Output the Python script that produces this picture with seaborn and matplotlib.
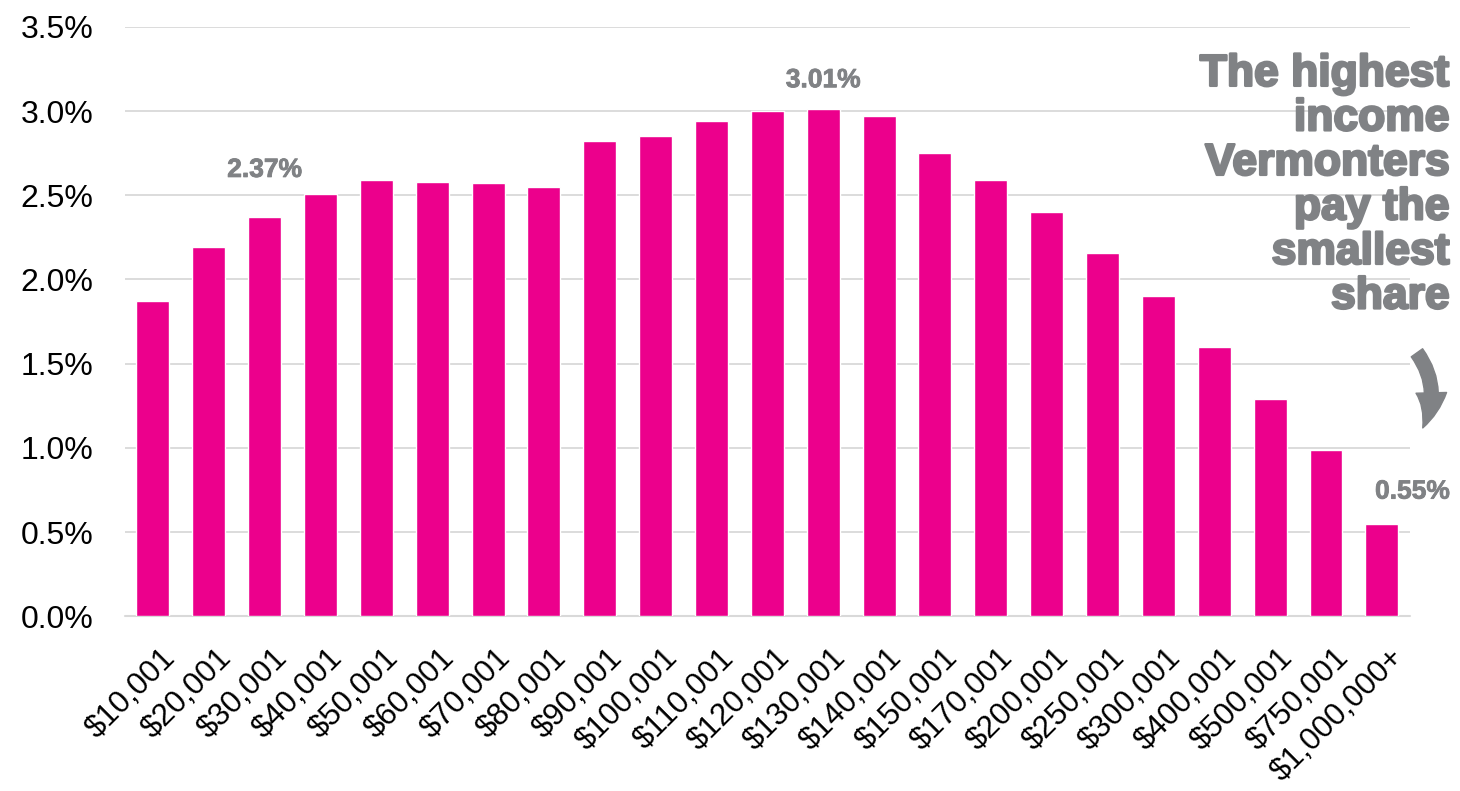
import numpy as np
import matplotlib
matplotlib.use('Agg')
import matplotlib.pyplot as plt
import matplotlib.transforms as mtransforms
import matplotlib.patheffects as pe
from matplotlib.ticker import FuncFormatter
import seaborn as sns

# ── Data: share of income paid, by income bracket ─────────────────────────
brackets = ["$10,001", "$20,001", "$30,001", "$40,001", "$50,001", "$60,001",
            "$70,001", "$80,001", "$90,001", "$100,001", "$110,001", "$120,001",
            "$130,001", "$140,001", "$150,001", "$170,001", "$200,001", "$250,001",
            "$300,001", "$400,001", "$500,001", "$750,001", "$1,000,000+"]
shares = [1.87, 2.19, 2.37, 2.51, 2.59, 2.58,
          2.57, 2.55, 2.82, 2.85, 2.94, 3.00,
          3.01, 2.97, 2.75, 2.59, 2.40, 2.16,
          1.90, 1.60, 1.29, 0.99, 0.55]
value_labels = {"$30,001": "2.37%", "$130,001": "3.01%", "$1,000,000+": "0.55%"}
# label offsets from bar top, in points (x, y)
label_offset = {"$30,001": (0, 34), "$130,001": (0, 21), "$1,000,000+": (22, 23)}
note = "The highest\nincome\nVermonters\npay the\nsmallest\nshare"

PINK = "#EC008C"
GREY = "#808285"
GRID = "#d9d9d9"

sns.set_theme(style="white")
plt.rcParams['font.family'] = ['Liberation Sans', 'DejaVu Sans']

fig = plt.figure(figsize=(14.6, 7.91), dpi=100)
ax = fig.add_axes([0.0856, 0.221, 0.880, 0.745])

sns.barplot(x=brackets, y=shares, color=PINK, saturation=1, width=0.59, ax=ax)

ax.set_xlim(-0.5, len(brackets) - 0.5)
ax.set_ylim(0, 3.5)
ax.set_yticks(np.arange(0, 3.51, 0.5))
ax.yaxis.set_major_formatter(FuncFormatter(lambda v, _: f"{v:.1f}%"))
ax.grid(axis='y', color=GRID, lw=1.3)
ax.set_axisbelow(True)
ax.axhline(0, color=GRID, lw=1.5, clip_on=False, zorder=0)
for s in ax.spines.values():
    s.set_visible(False)
ax.set_xlabel(""); ax.set_ylabel("")
ax.tick_params(axis='y', length=0, pad=23, labelsize=23, labelcolor='black')
ax.tick_params(axis='x', length=0, pad=27, labelsize=22.5, labelcolor='black')

shift = mtransforms.ScaledTranslation(0.18, 0, fig.dpi_scale_trans)
for lab in ax.get_xticklabels():
    lab.set_rotation(45)
    lab.set_ha('right')
    lab.set_va('center')
    lab.set_rotation_mode('anchor')
    lab.set_transform(lab.get_transform() + shift)

# value labels on a few bars
for i, (b, v) in enumerate(zip(brackets, shares)):
    if b in value_labels:
        ax.annotate(value_labels[b], (i, v), xytext=label_offset[b],
                    textcoords="offset points", ha='center', va='center',
                    fontsize=19, fontweight='bold', color=GREY,
                    path_effects=[pe.withStroke(linewidth=0.6, foreground=GREY)])

# side note + curved arrow
fig.text(0.993, 0.932, note, ha='right', va='top', fontsize=32, fontweight='bold',
         color=GREY, linespacing=1.11,
         path_effects=[pe.withStroke(linewidth=1.8, foreground=GREY)])
ax.annotate("", xy=(0.9745, 0.459), xycoords='figure fraction',
            xytext=(0.9705, 0.554), textcoords='figure fraction',
            arrowprops=dict(arrowstyle='simple,head_length=1.3,head_width=1.1,tail_width=0.5',
                            color=GREY, mutation_scale=20, shrinkA=0, shrinkB=0,
                            connectionstyle='arc3,rad=-0.3'))

fig.savefig("out.png", dpi=100)
plt.close()
